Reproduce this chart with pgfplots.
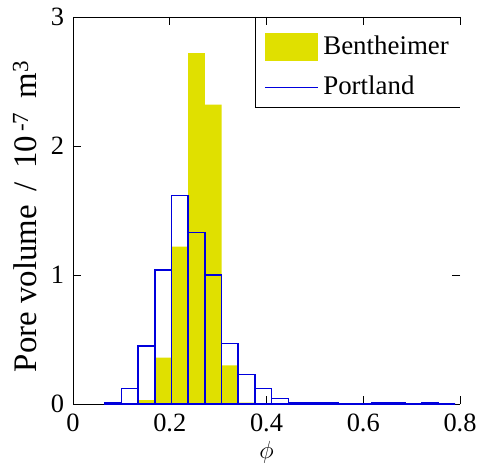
\documentclass[border=0pt]{standalone}
\usepackage{fontspec}
\setmainfont{Liberation Serif}
\usepackage{pgfplots}
\pgfplotsset{compat=1.18}
\definecolor{byellow}{RGB}{224,224,0}
\definecolor{pblue}{RGB}{0,0,220}
\newcommand{\bigf}{\fontsize{26.5}{30}\selectfont}
\newcommand{\legf}{\fontsize{27}{31}\selectfont}
\newcommand{\labf}{\fontsize{33}{38}\selectfont}
\begin{document}
\bigf
\begin{tikzpicture}
\begin{axis}[
  scale only axis, width=387bp, height=387bp,
  xmin=0, xmax=0.8, ymin=0, ymax=3,
  xtick={0,0.2,0.4,0.6,0.8}, xticklabels={0,0.2,0.4,0.6,0.8},
  ytick={0,1,2,3}, yticklabels={0,1,2,3},
  tick align=inside, major tick length=8bp,
  axis x line*=box, axis y line*=left,
  axis line style={line width=0.8pt},
  tick style={line width=0.8pt, black},
  /pgf/number format/assume math mode=true,
  tick label style={font=\bigf},
  xlabel={$\phi$},
  ylabel={Pore volume\, /\, 10\textsuperscript{\,-7}\, m\textsuperscript{3}},
  xlabel style={font=\bigf, yshift=8bp},
  ylabel style={font=\labf, at={(axis description cs:0,0.5)}, anchor=base, yshift=36bp, xshift=-6bp},
  xticklabel style={yshift=-1bp},
  legend cell align=left,
  legend style={at={(1,1)}, anchor=north east, yshift=-10bp, draw=none, fill=white,
    name=leg, font=\legf, inner xsep=9bp, inner ysep=6bp, row sep=13bp, column sep=3bp},
]
\addplot[ybar interval, fill=byellow, draw=none,
  legend image code/.code={\fill[byellow] (0bp,-14bp) rectangle (53bp,14bp);}]
  coordinates {
  (0.0655,0) (0.1,0) (0.1345,0.03) (0.169,0.36) (0.2035,1.22) (0.238,2.72)
  (0.2725,2.32) (0.307,0.30) (0.3415,0.01) (0.376,0) (0.4105,0) (0.445,0)
  (0.4795,0) (0.514,0) (0.5485,0) (0.583,0) (0.6175,0) (0.652,0) (0.6865,0)
  (0.721,0) (0.7555,0) (0.79,0)};
\addlegendentry{Bentheimer\hspace{2bp}}
\addplot[ybar interval, fill=none, draw=pblue, line width=1.5pt,
  legend image code/.code={\draw[pblue, line width=1pt] (0bp,0bp) -- (53bp,0bp);}]
  coordinates {
  (0.0655,0.013) (0.1,0.12) (0.1345,0.45) (0.169,1.04) (0.2035,1.615) (0.238,1.33)
  (0.2725,1.0) (0.307,0.47) (0.3415,0.23) (0.376,0.12) (0.4105,0.044) (0.445,0.01)
  (0.4795,0.01) (0.514,0.01) (0.5485,0) (0.583,0) (0.6175,0.01) (0.652,0.01) (0.6865,0)
  (0.721,0.01) (0.7555,0) (0.79,0)};
\addlegendentry{Portland}
\end{axis}
\draw[line width=0.8pt] (leg.south west |- current axis.north) -- (leg.south west) -- (leg.south east);
\draw[line width=0.8pt] (current axis.south east) ++(0,129bp) -- ++(-8bp,0);
\pgfresetboundingbox
\path (current axis.south west) ++(-73bp,-64bp) coordinate (bbA);
\path (current axis.north east) ++(20bp,17bp) coordinate (bbB);
\useasboundingbox (bbA) rectangle (bbB);
\end{tikzpicture}
\end{document}
